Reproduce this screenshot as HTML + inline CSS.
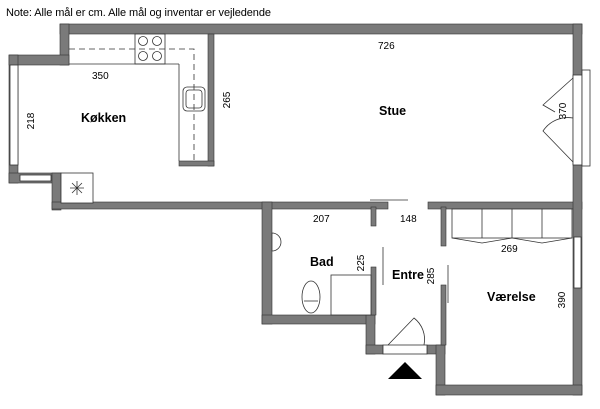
<!DOCTYPE html>
<html><head><style>
body{margin:0;background:#fff;}
svg{display:block;}
text{font-family:"Liberation Sans",sans-serif;fill:#000;}
</style></head><body>
<svg width="600" height="409" viewBox="0 0 600 409" xmlns="http://www.w3.org/2000/svg">
<text x="6" y="16" font-size="11" textLength="265">Note: Alle mål er cm. Alle mål og inventar er vejledende</text>
<g fill="#7a7a7a" stroke="#333" stroke-width="0.6">
<rect x="60" y="24" width="522" height="10"/>
<rect x="60" y="24" width="9" height="41"/>
<rect x="9" y="55" width="60" height="10"/>
<rect x="9" y="55" width="9" height="128"/>
<rect x="9" y="173" width="52" height="10"/>
<rect x="52" y="173" width="9" height="37"/>
<rect x="52" y="202" width="336" height="7"/>
<rect x="428" y="202" width="154" height="7"/>
<rect x="573" y="24" width="9" height="371"/>
<rect x="208" y="34" width="6" height="132"/>
<rect x="179" y="161" width="35" height="5"/>
<rect x="262" y="202" width="10" height="122"/>
<rect x="262" y="315" width="113" height="9"/>
<rect x="366" y="315" width="9" height="39"/>
<rect x="366" y="345" width="17" height="9"/>
<rect x="427" y="345" width="18" height="9"/>
<rect x="436" y="345" width="9" height="50"/>
<rect x="436" y="385" width="146" height="10"/>
<rect x="371" y="267" width="5" height="48"/>
<rect x="371" y="207" width="5" height="19"/>
<rect x="441" y="285" width="5" height="60"/>
<rect x="441" y="207" width="5" height="39"/>
</g>
<g fill="#fff" stroke="#333" stroke-width="0.8">
<rect x="10" y="65" width="8" height="100"/>
<rect x="20" y="175" width="31" height="6"/>
<rect x="573" y="75" width="9" height="90"/>
<rect x="582" y="70" width="8" height="96"/>
<rect x="574" y="237" width="7" height="51"/>
<rect x="383" y="345" width="44" height="9"/>
<rect x="61" y="173" width="32" height="30"/>
<rect x="135" y="34" width="30" height="30"/>
<rect x="183" y="87" width="22" height="24" rx="4"/>
<rect x="186" y="90" width="16" height="18" rx="3"/>
<rect x="452" y="209" width="120" height="29"/>
<rect x="331" y="275" width="40" height="40"/>
<ellipse cx="311" cy="297" rx="9" ry="16"/>
<path d="M272 233 A9 9 0 0 1 272 251 Z"/>
</g>
<g fill="none" stroke="#333" stroke-width="0.8">
<line x1="69" y1="64" x2="179" y2="64"/>
<line x1="179" y1="64" x2="179" y2="161"/>
<path d="M69 49 H194 V160" stroke-dasharray="6,4"/>
<circle cx="143" cy="41" r="4.5"/><circle cx="157" cy="41" r="4.5"/>
<circle cx="143" cy="56" r="4.5"/><circle cx="157" cy="56" r="4.5"/>
<path d="M70 188 H84 M77 181 V195 M72 183 L82 193 M82 183 L72 193"/>
<line x1="482" y1="209" x2="482" y2="238"/><line x1="512" y1="209" x2="512" y2="238"/><line x1="542" y1="209" x2="542" y2="238"/>
<path d="M452 238 L482 243 L512 238 L542 243 L572 238"/>
<line x1="370" y1="200" x2="408" y2="200"/>
<line x1="383" y1="247" x2="383" y2="285"/>
<line x1="448" y1="265" x2="448" y2="303"/>
<path d="M388 345 L414 318 A27 27 0 0 1 424 345"/>
<path d="M573 78 L543 105 L555 112"/>
<path d="M573 162 L543 131 A30 30 0 0 1 573 118"/>
<line x1="304" y1="301" x2="318" y2="301"/>
</g>
<polygon points="388,379 422,379 405,362" fill="#000"/>
<g font-size="10">
<text x="92" y="79">350</text>
<text x="378" y="49">726</text>
<text x="313" y="222">207</text>
<text x="400" y="222">148</text>
<text x="501" y="252">269</text>
<text transform="translate(34,121) rotate(-90)" text-anchor="middle">218</text>
<text transform="translate(230,100) rotate(-90)" text-anchor="middle">265</text>
<text transform="translate(566,111) rotate(-90)" text-anchor="middle">370</text>
<text transform="translate(364,263) rotate(-90)" text-anchor="middle">225</text>
<text transform="translate(434,276) rotate(-90)" text-anchor="middle">285</text>
<text transform="translate(565,300) rotate(-90)" text-anchor="middle">390</text>
</g>
<g font-size="12.5" font-weight="bold">
<text x="81" y="122">Køkken</text>
<text x="379" y="115">Stue</text>
<text x="310" y="266">Bad</text>
<text x="392" y="279">Entre</text>
<text x="487" y="301">Værelse</text>
</g>
</svg>
</body></html>
